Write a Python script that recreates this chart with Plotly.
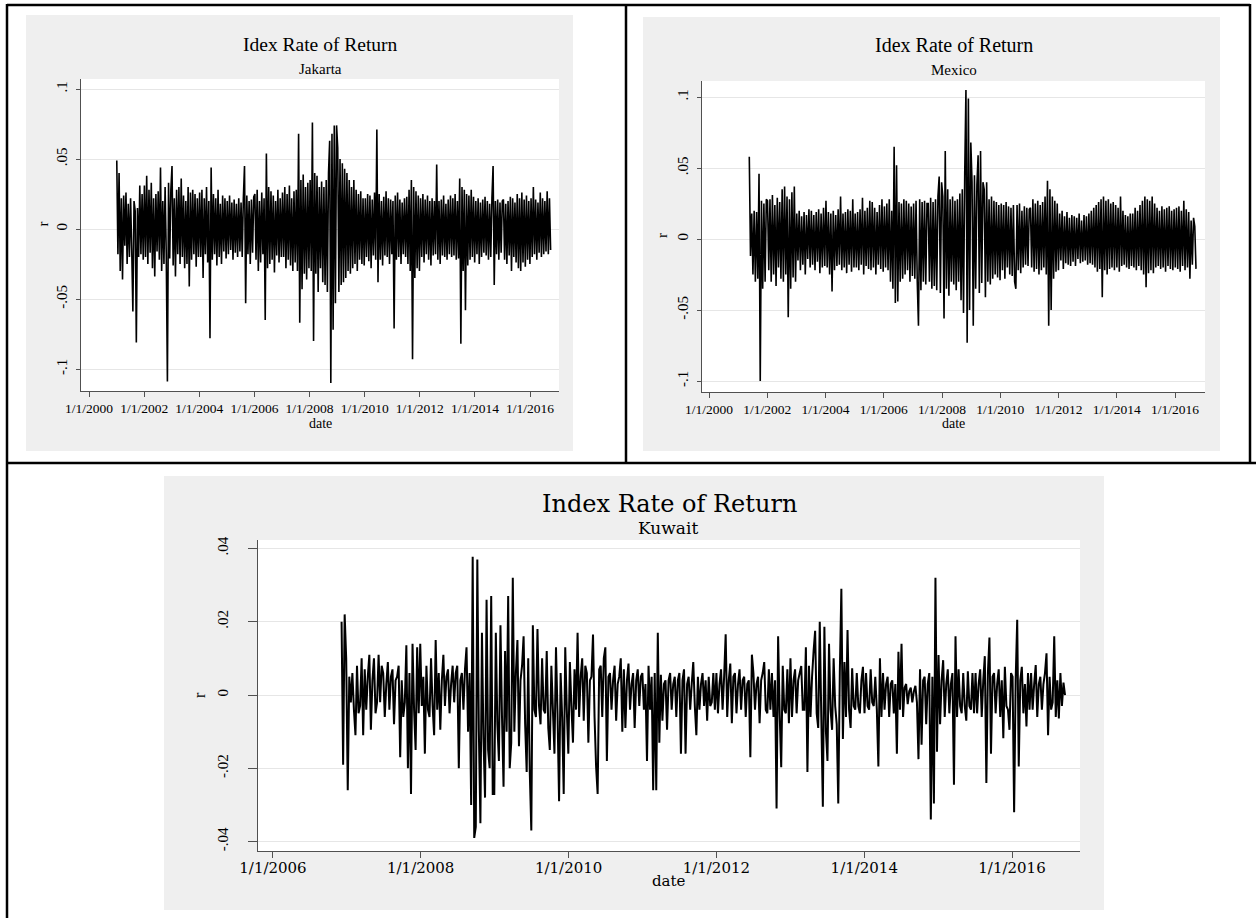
import plotly.graph_objects as go
import pandas as pd

W, H = 1256, 918

# ---------------- data ----------------
# Jakarta: 12 readings per half-year, 2001H1 .. 2016H2 (partial)
jakarta_r = [
    .049, -.018, .040, -.030, .022, -.036, .024, -.012, .026, -.025, .018, -.020,
    .022, -.015, -.059, .020, .013, -.081, .015, -.020, .031, -.018, .025, -.022,
    .031, -.020, .038, -.025, .028, -.017, .033, -.028, .022, -.034, .025, -.016,
    .027, -.022, .044, -.030, .020, -.025, .030, -.018, -.109, .033, -.021, .028,
    .045, -.026, .022, -.034, .028, -.018, .030, -.025, .036, -.020, .024, -.028,
    .020, -.025, .030, -.041, .026, -.022, .028, -.018, .025, -.027, .022, -.020,
    .026, -.020, .028, -.035, .022, -.018, .030, -.024, .020, -.078, .044, -.022,
    .025, -.018, .022, -.026, .028, -.020, .018, -.025, .024, -.016, .022, -.021,
    .020, -.018, .024, -.015, .019, -.022, .021, -.017, .018, -.020, .022, -.016,
    .019, -.020, .022, .045, -.053, .024, -.018, .020, -.025, .021, -.017, .023,
    .025, -.022, .028, -.030, .020, -.024, .026, -.018, .022, -.065, .054, -.028,
    .030, -.025, .027, -.022, .024, -.031, .020, -.019, .028, -.024, .022, -.020,
    .026, -.020, .030, -.028, .025, -.022, .031, -.026, .022, -.030, .027, -.024,
    .028, -.030, .068, -.067, .035, -.043, .039, -.032, .030, -.036, .033, -.028,
    .035, -.030, .076, -.080, .040, -.032, .038, -.045, .030, -.028, .034, -.038,
    .030, -.040, .035, -.045, .040, .063, -.110, .068, -.072, .074, -.053, .074,
    .058, -.045, .050, -.040, .047, -.038, .043, -.035, .040, -.030, .035, -.032,
    .030, -.028, .035, -.025, .028, -.030, .025, -.022, .027, -.025, .022, -.026,
    .022, -.020, .025, -.023, .024, -.028, .021, -.019, .026, -.022, .071, -.038,
    .025, -.022, .020, -.026, .023, -.019, .027, -.020, .022, -.025, .021, -.018,
    .020, -.071, .024, -.022, .026, -.020, .021, -.025, .019, -.018, .022, -.020,
    .023, -.025, .028, -.030, .035, -.093, .030, -.035, .027, -.028, .024, -.030,
    .022, -.020, .025, -.024, .021, -.018, .024, -.022, .020, -.026, .022, -.019,
    .020, -.018, .046, -.022, .020, -.025, .021, -.019, .024, -.020, .018, -.022,
    .021, -.018, .024, -.020, .022, -.019, .025, -.022, .020, -.021, .036, -.082,
    .030, -.030, .028, -.058, .025, -.026, .024, -.022, .028, -.020, .023, -.024,
    .020, -.018, .022, -.025, .019, -.020, .021, -.017, .023, -.019, .020, -.022,
    .018, -.020, .022, .045, -.040, .020, -.018, .021, -.022, .019, -.017, .020,
    .021, -.022, .018, -.025, .020, -.019, .023, -.030, .022, -.020, .019, -.024,
    .025, -.028, .022, -.030, .026, -.024, .021, -.027, .024, -.022, .020, -.025,
    .022, -.020, .030, -.018, .021, -.022, .019, -.017, .026, -.020, .022, -.018,
    .020, -.016, .027, -.018, .022, -.015,
]
jakarta_start, jakarta_end = "2001-01-03", "2016-09-30"

# Mexico: May-Jun 2001, then 12 readings per half-year, 2016H2 partial
mexico_r = [
    .058, -.012, .018,
    -.025, .020, -.030, .019, -.028, .046, -.100, .027, -.035, .025, -.030, .028,
    .027, -.022, .028, -.030, .031, -.025, .024, -.033, .029, -.020, .026, -.028,
    .035, -.030, .037, -.025, .030, -.055, .028, -.035, .033, -.027, .037, -.030,
    .018, -.015, .020, -.022, .016, -.018, .019, -.025, .017, -.014, .021, -.020,
    .020, -.018, .017, -.022, .019, -.016, .021, -.024, .018, -.020, .022, -.019,
    .027, -.020, .019, -.025, .018, -.037, .020, -.022, .017, -.019, .021, -.018,
    .030, -.022, .018, -.020, .019, -.024, .021, -.018, .020, -.023, .028, -.020,
    .018, -.020, .019, -.022, .021, -.018, .029, -.025, .020, -.019, .022, -.021,
    .027, -.022, .026, -.020, .022, -.025, .019, -.018, .024, -.021, .028, -.023,
    .023, -.020, .025, -.022, .028, -.030, .020, -.035, .065, -.045, .052, -.044,
    .026, -.030, .025, -.028, .028, -.025, .027, -.022, .025, -.030, .023, -.026,
    .025, -.028, .027, -.030, -.061, .028, -.036, .026, -.030, .027, -.032, .025,
    .025, -.030, .029, -.035, .026, -.033, .028, -.036, .030, .044, -.038, .040,
    .030, -.056, .062, -.035, .035, -.040, .028, -.030, .030, -.032, .027, -.036,
    .028, -.030, .032, -.043, .035, -.052, .046, .105, -.073, .099, -.050, .068,
    .040, -.061, .045, -.035, .038, .059, -.038, .062, -.031, .040, .035, -.041,
    .040, -.030, .028, -.032, .030, -.028, .027, -.025, .026, -.027, .024, -.029,
    .025, -.022, .024, -.028, .026, -.020, .023, -.025, .022, -.026, .024, -.030,
    -.035, .024, -.022, .025, -.024, .020, -.020, .023, -.018, .022, -.019, .021,
    .022, -.020, .028, -.023, .025, -.021, .027, -.025, .024, -.022, .026, -.020,
    .030, -.025, .041, -.061, .035, -.050, .030, -.028, .027, -.023, .025, -.022,
    .018, -.015, .020, -.021, .016, -.017, .019, -.018, .015, -.019, .017, -.016,
    .016, -.019, .015, -.014, .018, -.017, .013, -.016, .017, -.015, .016, -.018,
    .018, -.017, .020, -.018, .022, -.020, .024, -.023, .026, -.021, .028, -.041,
    .030, -.022, .027, -.025, .028, -.021, .025, -.020, .026, -.022, .024, -.020,
    .022, -.023, .030, -.019, .020, -.018, .017, -.020, .016, -.021, .018, -.019,
    .018, -.020, .022, -.022, .020, -.019, .024, -.022, .027, -.025, .030, -.034,
    .028, -.024, .027, -.022, .030, -.024, .025, -.020, .022, -.019, .020, -.021,
    .023, -.020, .021, -.023, .022, -.019, .023, -.021, .020, -.022, .021, -.020,
    .022, -.021, .023, -.023, .020, -.019, .027, -.022, .021, -.020, .019, -.028,
    .013, -.018, .015, .009, -.021,
]
mexico_start, mexico_end = "2001-05-20", "2016-09-20"

# Kuwait: Dec 2006, then 12 readings per quarter, 2016Q3 partial
kuwait_r = [
    .020, -.019, .022,
    .010, -.026, .005, -.002, .006, -.004, -.011, .008, -.005, -.003, .010, -.011,
    .007, -.004, .005, .011, -.0095, .004, .010, -.005, -.002, .011, -.002, .008,
    .006, -.006, .003, .009, -.004, .005, .007, -.008, .004, .005, .008, -.017,
    .004, -.006, -.002, .0136, -.020, .006, -.027, .014, -.004, -.015, .013, -.005,
    .014, -.003, .005, -.016, .008, -.004, -.006, .010, -.003, -.011, .015, -.004,
    .006, -.0095, .004, .011, -.003, .005, .007, -.005, .003, .008, -.002, .006,
    .008, -.020, .004, .006, -.004, .007, .013, -.010, .006, -.030, .0377, -.039,
    -.036, .037, -.010, -.035, .017, -.012, -.028, .026, -.015, -.020, .027, -.027,
    -.027, .017, -.008, -.018, .019, -.006, -.025, .012, -.010, .027, -.020, -.013,
    .032, -.010, .006, .015, -.014, .004, .008, .016, -.008, -.021, .010, -.021,
    -.037, .019, -.004, -.006, .018, -.003, -.008, .010, -.004, -.005, .012, -.009,
    -.015, .008, -.004, -.016, .013, -.005, -.029, .006, -.006, -.027, .013, -.004,
    -.016, .009, -.003, -.013, .007, -.004, .017, -.006, .005, .010, -.007, .008,
    .006, -.013, .004, .005, .0165, -.006, -.0195, -.027, .007, .008, -.006, .010,
    .013, -.018, .005, .006, -.004, .004, .008, -.007, .003, .005, .010, -.010,
    .007, -.009, .004, .0086, -.004, .003, .006, -.009, .004, .007, -.003, .005,
    .006, -.004, .003, -.018, .008, -.004, .005, -.026, .006, -.026, .017, -.013,
    .0055, -.007, .003, .004, -.0095, .004, .006, -.004, .003, .005, -.006, .004,
    .006, -.016, .004, .007, -.016, .003, .005, -.004, .003, .009, -.003, -.011,
    .005, -.004, .003, .006, -.003, .004, -.007, .005, -.003, -.002, .006, -.004,
    .006, -.005, .003, .007, -.004, .005, .0166, -.006, .004, .0086, -.0077, .005,
    .006, -.005, .003, .007, -.004, .004, .005, -.006, .003, .004, -.017, .011,
    .006, -.004, .003, .005, -.0077, .004, .006, .009, -.004, -.005, .007, -.004,
    .006, -.006, .004, -.031, .016, -.005, -.0197, .008, -.004, -.005, .007, -.0077,
    .010, -.006, .004, .007, -.005, .004, .006, .0079, -.004, -.004, .013, -.021,
    .008, -.006, .005, .012, .0175, -.005, -.009, .020, -.006, -.0305, .0186, -.010,
    -.018, .014, -.004, -.0095, .010, -.003, -.008, -.0296, .006, .029, -.012, .009,
    -.006, .0177, -.004, -.009, .0073, -.003, -.004, .006, -.003, -.005, .004, .0077,
    -.005, .006, -.003, -.004, .007, -.002, -.003, .005, -.004, -.0195, .010, -.006,
    .006, -.004, .003, .005, -.006, .003, .004, -.005, .003, -.016, .0118, -.004,
    .014, -.006, .002, .003, -.0025, .001, .002, -.002, .001, .0025, -.002, -.0175,
    .007, -.0136, .004, .005, -.008, .003, .006, -.034, .005, -.0296, .032, -.0155,
    .0109, -.008, .004, .0095, -.006, .003, .007, -.005, .003, .006, -.0245, .016,
    -.006, .007, -.003, -.005, .006, -.003, -.007, .0065, -.003, -.004, .006, -.005,
    .006, -.005, .003, .007, -.006, .004, .0106, -.024, .006, .0157, -.016, .005,
    .006, -.005, .003, .007, -.006, .004, -.0118, .0077, -.003, -.004, -.0095, .006,
    .005, -.032, .004, .0205, -.0195, .004, .0077, -.005, .003, -.0086, .006, -.004,
    .006, -.004, .003, .0082, -.006, .003, .005, -.004, .003, .006, .0114, -.011,
    .005, -.004, -.002, .016, -.006, .004, -.0064, .006, -.003, .0034, .000,
]
kuwait_start, kuwait_end = "2006-12-06", "2016-09-19"

# tick values / labels
top_xtick_dates = ["2000-01-01", "2002-01-01", "2004-01-01", "2006-01-01", "2008-01-01",
                   "2010-01-01", "2012-01-01", "2014-01-01", "2016-01-01"]
top_xtick_text = ["1/1/2000", "1/1/2002", "1/1/2004", "1/1/2006", "1/1/2008",
                  "1/1/2010", "1/1/2012", "1/1/2014", "1/1/2016"]
bot_xtick_dates = ["2006-01-01", "2008-01-01", "2010-01-01", "2012-01-01",
                   "2014-01-01", "2016-01-01"]
bot_xtick_text = ["1/1/2006", "1/1/2008", "1/1/2010", "1/1/2012", "1/1/2014", "1/1/2016"]
top_ytick_vals = [-0.1, -0.05, 0, 0.05, 0.1]
top_ytick_text = ["-.1", "-.05", "0", ".05", ".1"]
bot_ytick_vals = [-0.04, -0.02, 0, 0.02, 0.04]
bot_ytick_text = ["-.04", "-.02", "0", ".02", ".04"]

TIMES = "Liberation Serif, Times New Roman, serif"
WIDE = "DejaVu Serif, serif"

# ---------------- figure ----------------
def xd(px0, px1):
    return [px0 / W, px1 / W]

def yd(py_top, py_bot):
    return [1 - py_bot / H, 1 - py_top / H]

fig = go.Figure()

series = [
    (jakarta_r, jakarta_start, jakarta_end, "x", "y", 1.6),
    (mexico_r, mexico_start, mexico_end, "x2", "y2", 1.6),
    (kuwait_r, kuwait_start, kuwait_end, "x3", "y3", 2.0),
]
for vals, s, e, xa, ya, lw in series:
    dates = pd.date_range(s, e, periods=len(vals))
    fig.add_trace(go.Scatter(x=dates, y=vals, mode="lines",
                             line=dict(color="black", width=lw, simplify=False),
                             xaxis=xa, yaxis=ya, hoverinfo="skip", showlegend=False))

AX = "#505050"

def xaxis(domain, rng, anchor, tv, tt, font, ticklen, standoff):
    return dict(domain=domain, type="date", range=rng, anchor=anchor,
                tickmode="array", tickvals=tv, ticktext=tt, tickangle=0,
                tickfont=font, showgrid=False, zeroline=False,
                showline=True, linecolor=AX, linewidth=1,
                ticks="outside", ticklen=ticklen, tickcolor=AX, tickwidth=1,
                ticklabelstandoff=standoff, automargin=False, fixedrange=True)

def yaxis(domain, rng, anchor, tv, tt, font, ticklen, standoff):
    return dict(domain=domain, range=rng, anchor=anchor,
                tickmode="array", tickvals=tv, ticktext=tt, tickangle=-90,
                tickfont=font, showgrid=True, gridcolor="#e6e6e6", gridwidth=1,
                zeroline=False, showline=True, linecolor=AX, linewidth=1,
                ticks="outside", ticklen=ticklen, tickcolor=AX, tickwidth=1,
                ticklabelstandoff=standoff, automargin=False, fixedrange=True)

f_top_x = dict(family=TIMES, size=13.5, color="black")
f_top_y = dict(family=TIMES, size=15, color="black")
f_bot_x = dict(family=WIDE, size=15, color="black")
f_bot_y = dict(family=TIMES, size=15, color="black")

fig.update_layout(
    width=W, height=H, margin=dict(l=0, r=0, t=0, b=0),
    paper_bgcolor="white", plot_bgcolor="rgba(0,0,0,0)", showlegend=False,
    xaxis=xaxis(xd(81, 559), ["1999-09-17", "2017-01-19"], "y",
                top_xtick_dates, top_xtick_text, f_top_x, 5, 0),
    yaxis=yaxis(yd(79, 391), [-0.11571, 0.10714], "x",
                top_ytick_vals, top_ytick_text, f_top_y, 4, 3),
    xaxis2=xaxis(xd(702, 1205), ["1999-10-05", "2017-01-11"], "y2",
                 top_xtick_dates, top_xtick_text, f_top_x, 5, 0),
    yaxis2=yaxis(yd(81, 392), [-0.1077, 0.1113], "x2",
                 top_ytick_vals, top_ytick_text, f_top_y, 4, 3),
    xaxis3=xaxis(xd(258, 1080), ["2005-10-19", "2016-12-02"], "y3",
                 bot_xtick_dates, bot_xtick_text, f_bot_x, 6, -3),
    yaxis3=yaxis(yd(540, 851), [-0.04257, 0.0423], "x3",
                 bot_ytick_vals, bot_ytick_text, f_bot_y, 9, 14),
)

def rect(x0, y0, x1, y1, color):
    return dict(type="rect", xref="paper", yref="paper",
                x0=x0 / W, x1=x1 / W, y0=1 - y1 / H, y1=1 - y0 / H,
                fillcolor=color, line=dict(width=0), layer="below")

def seg(x0, y0, x1, y1, w=2.5):
    return dict(type="line", xref="paper", yref="paper",
                x0=x0 / W, y0=1 - y0 / H, x1=x1 / W, y1=1 - y1 / H,
                line=dict(color="black", width=w), layer="above")

PANEL = "#efefef"
shapes = [
    rect(26, 15, 573, 451, PANEL), rect(81, 79, 559, 391, "white"),
    rect(643, 17, 1220, 451, PANEL), rect(702, 81, 1205, 392, "white"),
    rect(164, 476, 1104, 910, PANEL), rect(258, 540, 1080, 851, "white"),
    seg(7, 5, 1250, 5), seg(7, 4, 7, 918), seg(1250, 4, 1250, 464),
    seg(7, 463, 1256, 463), seg(626, 5, 626, 463),
]
fig.update_layout(shapes=shapes)

def ann(text, px, py, size, family, angle=0):
    return dict(text=text, x=px / W, y=1 - py / H, xref="paper", yref="paper",
                xanchor="center", yanchor="middle", showarrow=False,
                textangle=angle, font=dict(size=size, family=family, color="black"))

annotations = [
    ann("Idex Rate of Return", 320, 44.5, 19.5, TIMES),
    ann("Jakarta", 320, 69, 15, TIMES),
    ann("date", 320, 423.5, 14, TIMES),
    ann("r", 42.5, 224, 15, TIMES, -90),
    ann("Idex Rate of Return", 953.5, 45.2, 20, TIMES),
    ann("Mexico", 953.5, 70, 15, TIMES),
    ann("date", 953.5, 423.5, 14, TIMES),
    ann("r", 662, 236, 15, TIMES, -90),
    ann("Index Rate of Return", 669, 503.5, 24, WIDE),
    ann("Kuwait", 668, 528, 17, WIDE),
    ann("date", 669, 881, 15, WIDE),
    ann("r", 199, 695, 16, TIMES, -90),
]
fig.update_layout(annotations=annotations)

fig.write_html("out.html", config={"displayModeBar": False},
               post_script="document.body.style.margin='0px';")
